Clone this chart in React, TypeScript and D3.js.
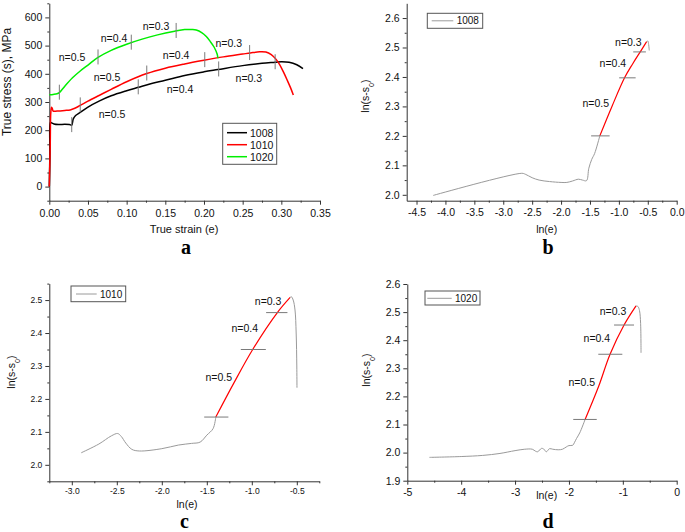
import * as d3 from 'd3';
import { useEffect, useRef } from 'react';

type Pt = [number, number];

// ---- panel a: true stress vs true strain
const curve1008: Pt[] = [
    [0, 0], [0.0008, 120], [0.0015, 228], [0.003, 226], [0.006, 222], [0.012, 220], [0.02, 221],
    [0.026, 220], [0.029, 218], [0.031, 240], [0.034, 252], [0.04, 263], [0.05, 282], [0.065, 304],
    [0.08, 322], [0.1, 340], [0.115, 352], [0.13, 364], [0.15, 377], [0.175, 394], [0.2, 407],
    [0.218, 415], [0.25, 429], [0.275, 437], [0.292, 441], [0.3, 443], [0.31, 441], [0.32, 432], [0.328, 418],
];
const curve1010: Pt[] = [
    [0, 0], [0.0012, 150], [0.002, 265], [0.003, 281], [0.004, 276], [0.005, 268], [0.01, 268],
    [0.02, 270], [0.027, 272], [0.033, 278], [0.04, 288], [0.05, 303], [0.065, 324], [0.08, 345],
    [0.1, 372], [0.126, 401], [0.15, 420], [0.175, 435], [0.2, 448], [0.225, 460], [0.25, 470],
    [0.26, 474], [0.272, 478], [0.28, 477], [0.287, 468], [0.293, 452], [0.298, 432], [0.303, 405],
    [0.308, 375], [0.312, 350], [0.3155, 325],
];
const curve1020: Pt[] = [
    [0, 326], [0.005, 327], [0.01, 329], [0.013, 333], [0.02, 356], [0.03, 386], [0.04, 410],
    [0.05, 431], [0.063, 458], [0.08, 483], [0.1, 505], [0.12, 523], [0.14, 538], [0.162, 551],
    [0.175, 557], [0.185, 557], [0.19, 555], [0.197, 546], [0.203, 532], [0.208, 515], [0.213, 495],
    [0.217, 470], [0.218, 455],
];
const marks1008 = [0.029, 0.115, 0.219, 0.292];
const marks1010 = [0.04, 0.126, 0.201, 0.259];
const marks1020 = [0.013, 0.063, 0.106, 0.164];
const nLabels = ['n=0.5', 'n=0.4', 'n=0.3'];
const labels1008: Pt[] = [[0.081, 256], [0.169, 345], [0.258, 384]];
const labels1010: Pt[] = [[0.0746, 388], [0.164, 466], [0.232, 509]];
const labels1020: Pt[] = [[0.0294, 459], [0.0837, 527], [0.138, 569]];
const strainTicks = [0, 0.05, 0.1, 0.15, 0.2, 0.25, 0.3, 0.35];
const stressTicks = [0, 100, 200, 300, 400, 500, 600];

// ---- panel b: 1008 log plot
const b1008Low: Pt[] = [
    [-4.21, 1.998], [-2.68, 2.073], [-2.62, 2.07], [-2.5, 2.058], [-2.38, 2.05], [-2.2, 2.045],
    [-2.0, 2.042], [-1.9, 2.042], [-1.8, 2.047], [-1.7, 2.053], [-1.63, 2.05], [-1.56, 2.048],
    [-1.52, 2.09], [-1.47, 2.12], [-1.42, 2.14], [-1.33, 2.2],
];
const b1008Fit: Pt[] = [[-1.33, 2.2], [-1.12, 2.3], [-0.9, 2.398], [-0.76, 2.445], [-0.625, 2.487], [-0.52, 2.52]];
const b1008Tail: Pt[] = [[-0.52, 2.52], [-0.5, 2.522], [-0.485, 2.51], [-0.475, 2.49]];
const bMarks = [[-1.48, -1.16, 2.2], [-0.995, -0.71, 2.397], [-0.752, -0.533, 2.485]];
const bLabels: Pt[] = [[-1.401, 2.313], [-1.104, 2.449], [-0.836, 2.519]];
const bTicksX = [-4.5, -4.0, -3.5, -3.0, -2.5, -2.0, -1.5, -1.0, -0.5, 0.0];
const bTicksY = [2.0, 2.1, 2.2, 2.3, 2.4, 2.5, 2.6];

// ---- panel c: 1010 log plot
const c1010Low: Pt[] = [
    [-2.896, 2.0365], [-2.7, 2.063], [-2.56, 2.088], [-2.49, 2.095], [-2.45, 2.086], [-2.4, 2.066],
    [-2.333, 2.047], [-2.25, 2.042], [-2.0, 2.049], [-1.815, 2.06], [-1.67, 2.065], [-1.574, 2.069],
    [-1.5, 2.09], [-1.43, 2.11], [-1.4, 2.145],
];
const c1010Fit: Pt[] = [[-1.4, 2.145], [-1.2, 2.248], [-0.99, 2.35], [-0.716, 2.462], [-0.574, 2.508]];
const c1010Tail: Pt[] = [[-0.574, 2.508], [-0.56, 2.51], [-0.54, 2.5], [-0.52, 2.47], [-0.507, 2.4], [-0.5, 2.3], [-0.498, 2.234]];
const cMarks = [[-1.529, -1.26, 2.145], [-1.122, -0.844, 2.35], [-0.841, -0.604, 2.462]];
const cLabels: Pt[] = [[-1.367, 2.267], [-1.078, 2.414], [-0.819, 2.498]];
const cTicksX = [-3.0, -2.5, -2.0, -1.5, -1.0, -0.5];
const cTicksY = [2.0, 2.1, 2.2, 2.3, 2.4, 2.5];

// ---- panel d: 1020 log plot
const d1020Low: Pt[] = [
    [-4.59, 1.983], [-4.0, 1.986], [-3.6, 1.99], [-3.28, 1.997], [-3.0, 2.007], [-2.82, 2.012],
    [-2.68, 2.012], [-2.62, 2.005], [-2.58, 2.003], [-2.51, 2.015], [-2.47, 2.013], [-2.42, 2.003],
    [-2.36, 2.014], [-2.3, 2.012], [-2.2, 2.01], [-2.12, 2.012], [-2.05, 2.02], [-2.0, 2.025],
    [-1.93, 2.026], [-1.9, 2.035], [-1.86, 2.05], [-1.8, 2.07], [-1.7, 2.118],
];
const d1020Fit: Pt[] = [[-1.7, 2.118], [-1.45, 2.235], [-1.237, 2.35], [-0.977, 2.454], [-0.755, 2.522]];
const d1020Tail: Pt[] = [[-0.755, 2.522], [-0.72, 2.52], [-0.69, 2.505], [-0.67, 2.46], [-0.662, 2.355]];
const dMarks = [[-1.92, -1.484, 2.118], [-1.455, -1.009, 2.35], [-1.163, -0.792, 2.454]];
const dLabels: Pt[] = [[-1.763, 2.253], [-1.482, 2.407], [-1.182, 2.504]];
const dTicksX = [-5, -4, -3, -2, -1, 0];
const dTicksY = [1.9, 2.0, 2.1, 2.2, 2.3, 2.4, 2.5, 2.6];

const FONT = "'Liberation Sans', Arial, sans-serif";
const GRAY = '#9a9a9a';
const MARK = '#7a7a7a';

function midpoints(t: number[]) {
    const out: number[] = [];
    for (let i = 0; i < t.length - 1; i++) out.push((t[i] + t[i + 1]) / 2);
    return out;
}

function interp(curve: Pt[], x: number) {
    for (let i = 0; i < curve.length - 1; i++) {
        const [x0, y0] = curve[i];
        const [x1, y1] = curve[i + 1];
        if (x >= x0 && x <= x1) return y0 + ((y1 - y0) * (x - x0)) / (x1 - x0);
    }
    return curve[curve.length - 1][1];
}

function drawAxes(g: any, x: any, y: any, o: any) {
    const [x0] = x.range();
    const [y0] = y.range();
    const fmtX = (d: number) => d.toFixed(o.xDec);
    const fmtY = (d: number) => d.toFixed(o.yDec);

    const xa = g.append('g').attr('transform', `translate(0,${y0})`)
        .call(d3.axisBottom(x).tickValues(o.xTicks).tickSize(4).tickSizeOuter(0).tickPadding(o.xPad).tickFormat(fmtX));
    g.append('g').attr('transform', `translate(0,${y0})`)
        .call(d3.axisBottom(x).tickValues(o.xMinor).tickSize(2).tickSizeOuter(0).tickFormat(() => ''))
        .select('.domain').remove();
    const ya = g.append('g').attr('transform', `translate(${x0},0)`)
        .call(d3.axisLeft(y).tickValues(o.yTicks).tickSize(4).tickSizeOuter(0).tickPadding(3).tickFormat(fmtY));
    g.append('g').attr('transform', `translate(${x0},0)`)
        .call(d3.axisLeft(y).tickValues(o.yMinor).tickSize(2).tickSizeOuter(0).tickFormat(() => ''))
        .select('.domain').remove();

    g.selectAll('.domain').attr('stroke', '#333');
    g.selectAll('.tick line').attr('stroke', '#333');
    [xa, ya].forEach((a) => a.selectAll('text')
        .attr('fill', '#111')
        .style('font-family', FONT)
        .style('font-size', `${o.tickFont}px`));
}

function drawLine(g: any, x: any, y: any, pts: Pt[], color: string, w: number) {
    const line = d3.line<Pt>()
        .x((d) => x(d[0]))
        .y((d) => y(d[1]))
        .curve(d3.curveCatmullRom.alpha(0.5));
    g.append('path').datum(pts).attr('d', line)
        .attr('fill', 'none').attr('stroke', color).attr('stroke-width', w)
        .attr('stroke-linejoin', 'round');
}

function addText(g: any, px: number, py: number, txt: string, size: number, anchor = 'middle') {
    return g.append('text').attr('x', px).attr('y', py)
        .attr('text-anchor', anchor).attr('dominant-baseline', 'central')
        .style('font-family', FONT).style('font-size', `${size}px`).attr('fill', '#111').text(txt);
}

function yTitleLn(g: any, px: number, py: number, size: number) {
    const t = g.append('text')
        .attr('transform', `translate(${px},${py}) rotate(-90)`)
        .attr('text-anchor', 'middle')
        .style('font-family', FONT).style('font-size', `${size}px`).attr('fill', '#111');
    t.append('tspan').text('ln(s-s');
    t.append('tspan').attr('baseline-shift', 'sub').style('font-size', `${size * 0.7}px`).text('0');
    t.append('tspan').text(')');
}

function panelLetter(svg: any, px: number, py: number, txt: string) {
    svg.append('text').attr('x', px).attr('y', py).attr('text-anchor', 'middle')
        .style('font-family', "'Liberation Serif', 'Times New Roman', serif")
        .style('font-weight', 'bold').style('font-size', '20px').attr('fill', '#000').text(txt);
}

function legendBox(g: any, box: number[], entries: { name: string; color: string; w: number }[], lineX: number[], textX: number, rowY: number[], size: number) {
    g.append('rect').attr('x', box[0]).attr('y', box[1]).attr('width', box[2] - box[0]).attr('height', box[3] - box[1])
        .attr('fill', 'white').attr('stroke', '#555').attr('stroke-width', 1);
    entries.forEach((e, i) => {
        g.append('line').attr('x1', lineX[0]).attr('x2', lineX[1]).attr('y1', rowY[i]).attr('y2', rowY[i])
            .attr('stroke', e.color).attr('stroke-width', e.w);
        addText(g, textX, rowY[i], e.name, size, 'start');
    });
}

function drawLogPanel(svg: any, c: any) {
    const x = d3.scaleLinear().domain(c.xDomain).range(c.xRange);
    const y = d3.scaleLinear().domain(c.yDomain).range(c.yRange);
    const g = svg.append('g');
    drawAxes(g, x, y, {
        xTicks: c.xTicks, yTicks: c.yTicks,
        xMinor: [...midpoints(c.xTicks), ...c.xExtraMinor],
        yMinor: [...midpoints(c.yTicks), ...c.yExtraMinor],
        xDec: c.xDec, yDec: 1, xPad: c.xPad, tickFont: c.tickFont,
    });
    drawLine(g, x, y, c.low, GRAY, 1);
    drawLine(g, x, y, c.fit, '#ff0000', 1.2);
    drawLine(g, x, y, c.tail, GRAY, 1);
    c.marks.forEach((m: number[]) => {
        g.append('line').attr('x1', x(m[0])).attr('x2', x(m[1])).attr('y1', y(m[2])).attr('y2', y(m[2]))
            .attr('stroke', MARK).attr('stroke-width', 1);
    });
    c.labels.forEach((p: Pt, i: number) => addText(g, x(p[0]), y(p[1]), nLabels[i], c.labelFont));
    legendBox(g, c.legend.box, [{ name: c.name, color: GRAY, w: 1 }], c.legend.lineX, c.legend.textX, [c.legend.rowY], c.legendFont);
    addText(g, c.xTitle[0], c.xTitle[1], 'ln(e)', c.titleFont);
    yTitleLn(g, c.yTitle[0], c.yTitle[1], c.titleFont);
}

export default function App() {
    const ref = useRef<SVGSVGElement>(null);

    useEffect(() => {
        const svg = d3.select(ref.current);
        svg.selectAll('*').remove();

        // ---- panel a
        const xa = d3.scaleLinear().domain([0, 0.35]).range([49.3, 320]);
        const ya = d3.scaleLinear().domain([-50, 650]).range([200.7, 3.3]);
        const ga = svg.append('g');
        drawAxes(ga, xa, ya, {
            xTicks: strainTicks, yTicks: stressTicks,
            xMinor: midpoints(strainTicks), yMinor: [-50, ...midpoints(stressTicks), 650],
            xDec: 2, yDec: 0, xPad: 5, tickFont: 10.5,
        });
        const series = [
            { name: '1008', color: '#000000', curve: curve1008, marks: marks1008, labels: labels1008 },
            { name: '1010', color: '#ff0000', curve: curve1010, marks: marks1010, labels: labels1010 },
            { name: '1020', color: '#00ee00', curve: curve1020, marks: marks1020, labels: labels1020 },
        ];
        series.forEach((s) => drawLine(ga, xa, ya, s.curve, s.color, 1.5));
        series.forEach((s) => {
            s.marks.forEach((m) => {
                const cy = ya(interp(s.curve, m));
                ga.append('line').attr('x1', xa(m)).attr('x2', xa(m)).attr('y1', cy - 8).attr('y2', cy + 7)
                    .attr('stroke', MARK).attr('stroke-width', 1);
            });
            s.labels.forEach((p, i) => addText(ga, xa(p[0]), ya(p[1]), nLabels[i], 10.5));
        });
        legendBox(ga, [222.7, 123.3, 276.7, 164.3],
            series.map((s) => ({ name: s.name, color: s.color, w: 1.5 })),
            [227, 247], 250, [132.7, 144.7, 156.7], 10.5);
        addText(ga, 184, 229, 'True strain (e)', 11);
        ga.append('text').attr('transform', 'translate(11,82) rotate(-90)').attr('text-anchor', 'middle')
            .style('font-family', FONT).style('font-size', '12px').attr('fill', '#111').text('True stress (s), MPa');

        // ---- panels b, c, d
        drawLogPanel(svg, {
            name: '1008', xDomain: [-4.67, 0], xRange: [406.7, 676.7], yDomain: [1.98, 2.65], yRange: [200.7, 3.3],
            xTicks: bTicksX, yTicks: bTicksY, xExtraMinor: [], yExtraMinor: [], xDec: 1, xPad: 4,
            tickFont: 10.5, labelFont: 10.5, legendFont: 10, titleFont: 10.5,
            low: b1008Low, fit: b1008Fit, tail: b1008Tail, marks: bMarks, labels: bLabels,
            legend: { box: [427.3, 13.3, 482.7, 28.3], lineX: [431.7, 453.3], textX: 456.7, rowY: 20.8 },
            xTitle: [546.7, 229], yTitle: [369, 96],
        });
        drawLogPanel(svg, {
            name: '1010', xDomain: [-3.25, -0.25], xRange: [49.3, 319.3], yDomain: [1.95, 2.55], yRange: [481.3, 283.6],
            xTicks: cTicksX, yTicks: cTicksY, xExtraMinor: [-3.25, -0.25], yExtraMinor: [1.95, 2.55], xDec: 1, xPad: 3,
            tickFont: 8.5, labelFont: 10.5, legendFont: 10, titleFont: 10.5,
            low: c1010Low, fit: c1010Fit, tail: c1010Tail, marks: cMarks, labels: cLabels,
            legend: { box: [71, 286, 125.7, 301.7], lineX: [76, 96.7], textX: 100, rowY: 294 },
            xTitle: [187, 503.5], yTitle: [15, 372],
        });
        drawLogPanel(svg, {
            name: '1020', xDomain: [-5, 0], xRange: [407.3, 676.7], yDomain: [1.9, 2.6], yRange: [480.7, 284],
            xTicks: dTicksX, yTicks: dTicksY, xExtraMinor: [], yExtraMinor: [], xDec: 0, xPad: 4,
            tickFont: 10.5, labelFont: 10.5, legendFont: 10, titleFont: 10.5,
            low: d1020Low, fit: d1020Fit, tail: d1020Tail, marks: dMarks, labels: dLabels,
            legend: { box: [425, 291, 480, 305], lineX: [427.3, 451.7], textX: 455, rowY: 298.3 },
            xTitle: [546.7, 495], yTitle: [370, 370],
        });

        panelLetter(svg, 186, 254, 'a');
        panelLetter(svg, 548, 254, 'b');
        panelLetter(svg, 184.5, 527.5, 'c');
        panelLetter(svg, 548, 527.5, 'd');
    }, []);

    return (
        <svg ref={ref} width={685} height={532}
            style={{ position: 'absolute', left: 0, top: 0, background: 'white' }} />
    );
}
